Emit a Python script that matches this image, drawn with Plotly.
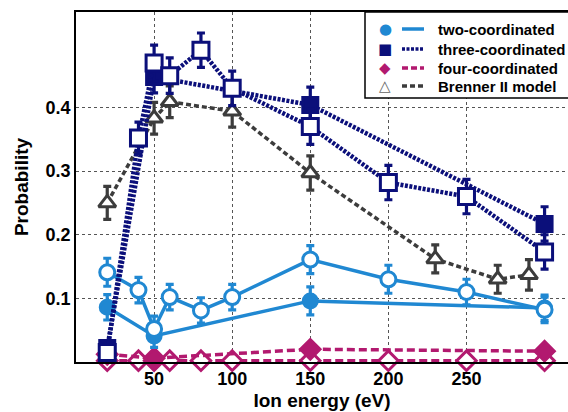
import plotly.graph_objects as go

# ---------------- data ----------------
two_open_x = [20, 40, 50, 60, 80, 100, 150, 200, 250, 300]
two_open_y = [0.141, 0.113, 0.052, 0.102, 0.081, 0.102, 0.161, 0.130, 0.110, 0.082]
two_open_err = [0.022, 0.020, 0.020, 0.020, 0.020, 0.020, 0.022, 0.022, 0.020, 0.020]

two_fill_x = [20, 50, 150, 300]
two_fill_y = [0.086, 0.041, 0.096, 0.085]
two_fill_err = [0.020, 0.018, 0.022, 0.020]

three_open_x = [20, 40, 50, 60, 80, 100, 150, 200, 250, 300]
three_open_y = [0.015, 0.352, 0.470, 0.450, 0.490, 0.430, 0.370, 0.282, 0.260, 0.173]
three_open_err = [0.010, 0.025, 0.028, 0.028, 0.027, 0.027, 0.028, 0.027, 0.027, 0.027]

three_fill_x = [20, 50, 150, 300]
three_fill_y = [0.022, 0.448, 0.404, 0.217]
three_fill_err = [0.010, 0.025, 0.028, 0.027]

four_open_x = [20, 40, 50, 60, 80, 100, 150, 200, 250, 300]
four_open_y = [0.002, 0.002, 0.002, 0.002, 0.002, 0.002, 0.002, 0.002, 0.002, 0.002]
four_open_err = [0.003] * 10

four_fill_x = [20, 50, 150, 300]
four_fill_y = [0.012, 0.006, 0.020, 0.017]
four_fill_err = [0.004, 0.004, 0.005, 0.005]

brenner_x = [20, 50, 60, 100, 150, 230, 270, 290]
brenner_y = [0.250, 0.383, 0.409, 0.394, 0.297, 0.162, 0.130, 0.137]
brenner_err = [0.026, 0.025, 0.025, 0.025, 0.027, 0.022, 0.022, 0.024]

x_ticks = [50, 100, 150, 200, 250]
y_ticks = [0.1, 0.2, 0.3, 0.4]

legend_labels = ["two-coordinated", "three-coordinated", "four-coordinated", "Brenner II model"]

# ---------------- styles ----------------
C_TWO = "#2088d2"
C_THREE = "#0b0f7a"
C_FOUR = "#b2196f"
C_BREN = "#3c3c3c"
FONT = "Liberation Sans, Arial, sans-serif"
D_THREE = "3px,1.5px"
D_FOUR = "8px,4px"
D_BREN = "5px,3px"

fig = go.Figure()


def add(x, y, err, color, dash, width, symbol, size, filled, lw=3):
    fig.add_trace(go.Scatter(
        x=x, y=y, mode="lines+markers",
        line=dict(color=color, width=width, dash=dash),
        marker=dict(symbol=symbol, size=size,
                    color=color if filled else "white",
                    line=dict(color=color, width=lw)),
        error_y=dict(type="data", array=err, visible=True, color=color,
                     thickness=3.2, width=4),
        showlegend=False, cliponaxis=False,
    ))


# four-coordinated
add(four_open_x, four_open_y, four_open_err, C_FOUR, D_FOUR, 3.5, "diamond", 15, False)
add(four_fill_x, four_fill_y, four_fill_err, C_FOUR, D_FOUR, 3.5, "diamond", 15, True)
# two-coordinated
add(two_fill_x, two_fill_y, two_fill_err, C_TWO, "solid", 3.5, "circle", 14, True)
add(two_open_x, two_open_y, two_open_err, C_TWO, "solid", 3.5, "circle", 15, False)
# Brenner
add(brenner_x, brenner_y, brenner_err, C_BREN, D_BREN, 3.5, "triangle-up", 15, False)
# three-coordinated
add(three_fill_x, three_fill_y, three_fill_err, C_THREE, D_THREE, 4.5, "square", 15, True)
add(three_open_x, three_open_y, three_open_err, C_THREE, D_THREE, 4.5, "square", 16, False)

# ---------------- custom legend ----------------
L, R, T, B = 76, 568, 12, 362


def px(v):
    return (v - L) / (R - L)


def py(v):
    return (B - v) / (B - T)


shapes = [dict(type="rect", xref="paper", yref="paper",
               x0=px(365), x1=px(600), y0=py(98), y1=py(12),
               line=dict(color="black", width=1.5), fillcolor="white", layer="above")]
rows_y = [29, 49, 68, 86]
leg_colors = [C_TWO, C_THREE, C_FOUR, C_BREN]
leg_dash = ["solid", D_THREE, "6px,3px", D_BREN]
leg_sym = ["●", "■", "◆", "△"]
annotations = []
for yy, col, dsh, sym, lab in zip(rows_y, leg_colors, leg_dash, leg_sym, legend_labels):
    shapes.append(dict(type="line", xref="paper", yref="paper",
                       x0=px(402), x1=px(424), y0=py(yy), y1=py(yy),
                       line=dict(color=col, width=3.5, dash=dsh), layer="above"))
    annotations.append(dict(x=px(385), y=py(yy), xref="paper", yref="paper",
                            text=sym, showarrow=False, xanchor="center", yanchor="middle",
                            font=dict(color=col if sym != "△" else "#666666",
                                      size=15, family="DejaVu Sans")))
    annotations.append(dict(x=px(436), y=py(yy), xref="paper", yref="paper",
                            text="<b>" + lab + "</b>", showarrow=False,
                            xanchor="left", yanchor="middle",
                            font=dict(color="black", size=15, family=FONT)))

fig.update_layout(
    width=568, height=412,
    margin=dict(l=L, r=0, t=T, b=412 - B, autoexpand=False),
    paper_bgcolor="white", plot_bgcolor="white",
    font=dict(family=FONT, color="black"),
    shapes=shapes, annotations=annotations,
    xaxis=dict(range=[0, 315], tickvals=x_ticks, ticktext=["<b>%d</b>" % v for v in x_ticks],
               tickfont=dict(size=18), showline=True, linecolor="black", linewidth=1.5,
               mirror=True, ticks="", showgrid=True, gridcolor="#555555", griddash="dot",
               gridwidth=1.3, zeroline=False, automargin=False,
               title=dict(text="<b>Ion energy (eV)</b>", font=dict(size=19), standoff=5)),
    yaxis=dict(range=[0, 0.55], tickvals=y_ticks, ticktext=["<b>%.1f</b>" % v for v in y_ticks],
               tickfont=dict(size=18), showline=True, linecolor="black", linewidth=1.5,
               ticks="", showgrid=True, gridcolor="#555555", griddash="dot",
               gridwidth=1.3, zeroline=False, automargin=False,
               title=dict(text="<b>Probability</b>", font=dict(size=19), standoff=12)),
)

fig.write_html("out.html", config={"displayModeBar": False},
               post_script="document.body.style.margin='0';document.body.style.overflow='hidden';")
